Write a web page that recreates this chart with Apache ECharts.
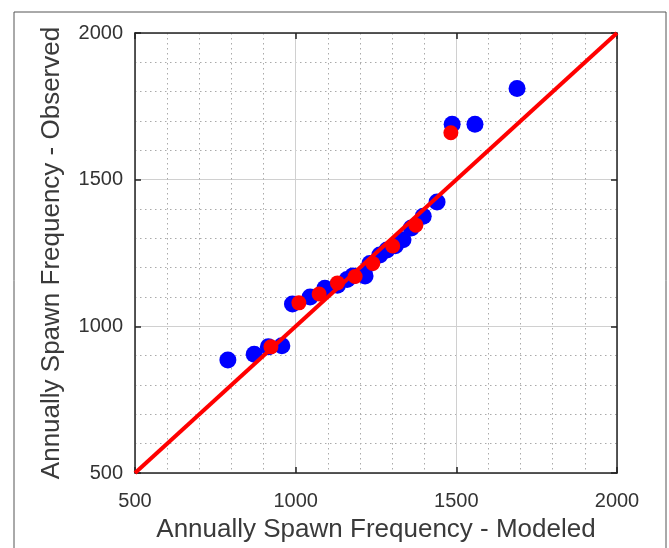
<!DOCTYPE html>
<html>
<head>
<meta charset="utf-8">
<script src="https://cdn.jsdelivr.net/npm/echarts@6/dist/echarts.min.js"></script>
<style>
html,body{margin:0;padding:0;background:#fff;}
#chart{width:669px;height:548px;}
</style>
</head>
<body>
<div id="chart"></div>
<script>
// Data
var xTitle = 'Annually Spawn Frequency - Modeled';
var yTitle = 'Annually Spawn Frequency - Observed';
var axisMin = 500, axisMax = 2000, axisStep = 500;

var blueModeled  = [789, 871, 915, 957, 990, 1045, 1091, 1130, 1160, 1178, 1216, 1231, 1262, 1284, 1310, 1334, 1360, 1397, 1440, 1487, 1558, 1689];
var blueObserved = [885, 905, 930, 934, 1076, 1100, 1130, 1140, 1160, 1172, 1172, 1214, 1243, 1260, 1275, 1295, 1335, 1375, 1424, 1689, 1689, 1811];

var redModeled  = [923, 1010, 1073, 1130, 1185, 1240, 1302, 1374, 1483];
var redObserved = [930, 1080, 1110, 1148, 1170, 1214, 1274, 1345, 1660];

var lineX = [500, 2000];
var lineY = [500, 2000];

function pairs(a, b){ return a.map(function(v,i){ return [v, b[i]]; }); }

var chart = echarts.init(document.getElementById('chart'), null, {renderer:'canvas'});
var font = 'Liberation Sans, Arial, Helvetica, sans-serif';

function mainAxis(name, gap, isY){
  return {
    type:'value', min:axisMin, max:axisMax, interval:axisStep,
    name:name, nameLocation:'middle', nameGap:gap,
    nameTextStyle:{fontFamily:font, fontSize:26, color:'#3a3a3a'},
    axisLine:{show:true, onZero:false, lineStyle:{color:'#222', width:1.5}},
    axisTick:{show:true, inside:true, length:6, lineStyle:{color:'#222', width:1.5}},
    axisLabel:{show:true, fontFamily:font, fontSize:20, color:'#333', margin: isY ? 12 : 18,
      formatter:function(v){ return String(v); }},
    splitLine:{show:true, lineStyle:{color:'#d0d0d0', width:1}},
    minorTick:{show:false, splitNumber:5},
    minorSplitLine:{show:true, lineStyle:{color:'#aaaaaa', width:1, type:[1.5,3.5]}}
  };
}
function boxAxis(pos){
  return {
    type:'value', min:axisMin, max:axisMax, interval:axisStep, position:pos,
    axisLine:{show:true, onZero:false, lineStyle:{color:'#222', width:1.5}},
    axisTick:{show:true, inside:true, length:6, lineStyle:{color:'#222', width:1.5}},
    axisLabel:{show:false},
    splitLine:{show:false}
  };
}

chart.setOption({
  animation:false,
  backgroundColor:'#fff',
  graphic:[{
    type:'rect', shape:{x:14, y:12, width:652, height:560},
    style:{fill:null, stroke:'#555', lineWidth:1}, silent:true, z:-10
  }],
  grid:{left:135, right:52, top:33, bottom:71, containLabel:false},
  xAxis:[ mainAxis(xTitle, 44, false), boxAxis('top') ],
  yAxis:[ mainAxis(yTitle, 70, true), boxAxis('right') ],
  series:[
    {type:'scatter', data:pairs(blueModeled, blueObserved), symbolSize:17,
     itemStyle:{color:'#0000ff', opacity:1}, z:2},
    {type:'line', data:pairs(lineX, lineY), showSymbol:false, symbol:'none',
     lineStyle:{color:'#ff0000', width:4}, z:3},
    {type:'scatter', data:pairs(redModeled, redObserved), symbolSize:15,
     itemStyle:{color:'#ff0000', opacity:1}, z:4}
  ]
});
</script>
</body>
</html>
